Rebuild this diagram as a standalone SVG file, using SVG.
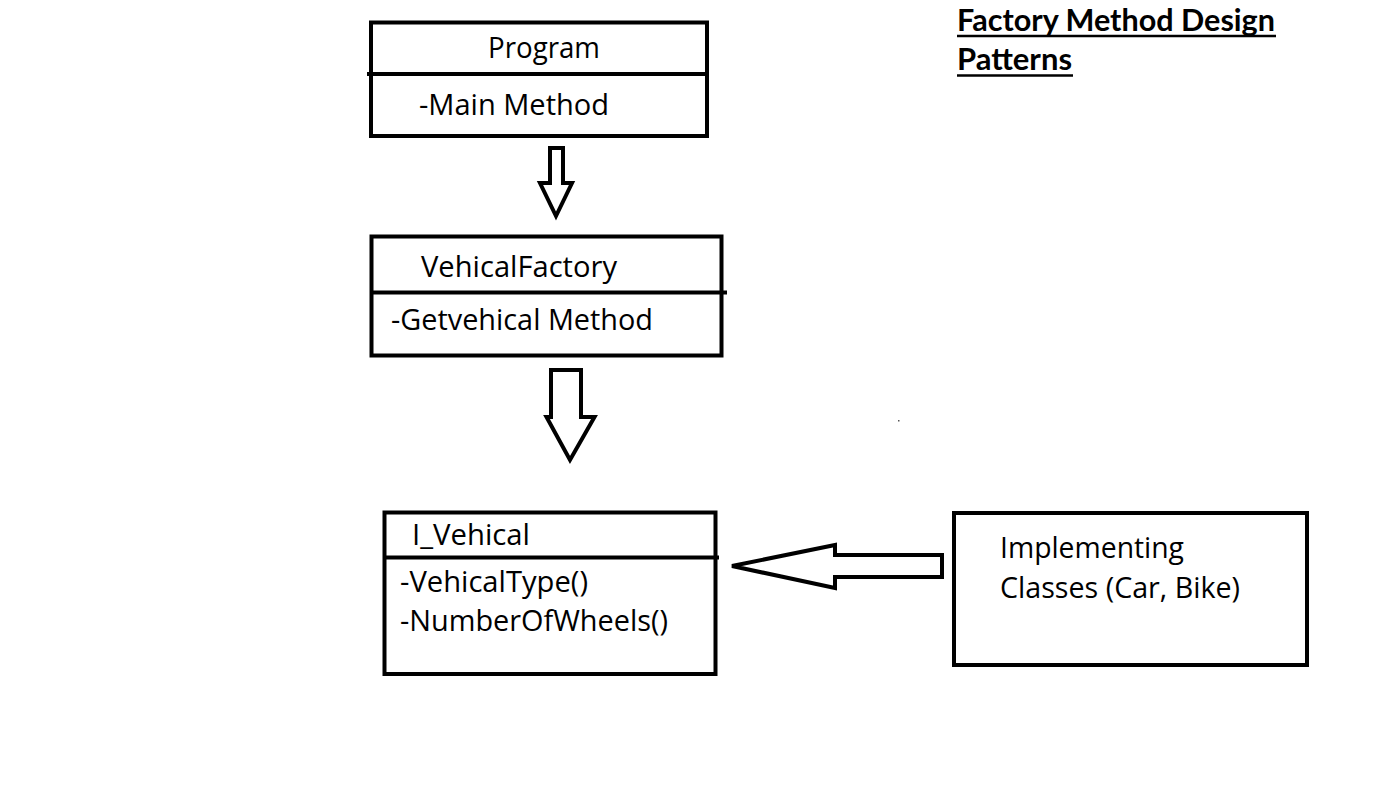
<svg xmlns="http://www.w3.org/2000/svg" width="1395" height="808" viewBox="0 0 1395 808">
<style>
.box{fill:none;stroke:#000;stroke-width:4}
.div{stroke:#000;stroke-width:4}
.arr{fill:#fff;stroke:#000;stroke-width:4;stroke-linejoin:miter}
.t{font-family:"Open Sans","Liberation Sans",sans-serif;font-size:30px;fill:#000}
.title{font-family:Lato,"Open Sans","Liberation Sans",sans-serif;font-size:30px;font-weight:bold;fill:#000}
.ul{stroke:#000;stroke-width:2.5}
</style>
<rect width="1395" height="808" fill="#fff"/>
<g id="title">
<text class="title" x="957" y="31" textLength="318" lengthAdjust="spacingAndGlyphs">Factory Method Design</text>
<line class="ul" x1="957" y1="36" x2="1276" y2="36"/>
<text class="title" x="957" y="70" textLength="115" lengthAdjust="spacingAndGlyphs">Patterns</text>
<line class="ul" x1="957" y1="75.5" x2="1073" y2="75.5"/>
</g>
<g id="program">
<rect class="box" x="371" y="22.5" width="336" height="113.5"/>
<line class="div" x1="367" y1="74" x2="707" y2="74"/>
<text class="t" x="488" y="58" textLength="112" lengthAdjust="spacingAndGlyphs">Program</text>
<text class="t" x="419" y="115" textLength="190" lengthAdjust="spacingAndGlyphs">-Main Method</text>
</g>
<g id="vehicalFactory">
<rect class="box" x="371.5" y="236.5" width="350" height="119"/>
<line class="div" x1="371" y1="292.5" x2="727" y2="292.5"/>
<text class="t" x="421" y="277" textLength="196" lengthAdjust="spacingAndGlyphs">VehicalFactory</text>
<text class="t" x="391" y="330" textLength="262" lengthAdjust="spacingAndGlyphs">-Getvehical Method</text>
</g>
<g id="iVehical">
<rect class="box" x="384.5" y="512.5" width="331" height="161.5"/>
<line class="div" x1="384" y1="557.5" x2="719" y2="557.5"/>
<text class="t" x="412" y="545" textLength="118" lengthAdjust="spacingAndGlyphs">I_Vehical</text>
<text class="t" x="400" y="592" textLength="188" lengthAdjust="spacingAndGlyphs">-VehicalType()</text>
<text class="t" x="400" y="631" textLength="268" lengthAdjust="spacingAndGlyphs">-NumberOfWheels()</text>
</g>
<g id="implementing">
<rect class="box" x="954" y="513" width="353" height="152"/>
<text class="t" x="1000" y="558" textLength="184" lengthAdjust="spacingAndGlyphs">Implementing</text>
<text class="t" x="1000" y="598" textLength="240" lengthAdjust="spacingAndGlyphs">Classes (Car, Bike)</text>
</g>
<g id="connectors">
<polygon class="arr" points="550,148 563,148 563,183 572,183 556,216 540,183 550,183"/>
<polygon class="arr" points="551,370 581,370 581,417 594.5,417 570,460 546.5,417 551,417"/>
<polygon class="arr" points="942,555 835,555 835,545 732,566 835,588 835,577 942,577"/>
</g>
<rect x="898" y="420" width="1.5" height="1.5" fill="#555"/>
</svg>
